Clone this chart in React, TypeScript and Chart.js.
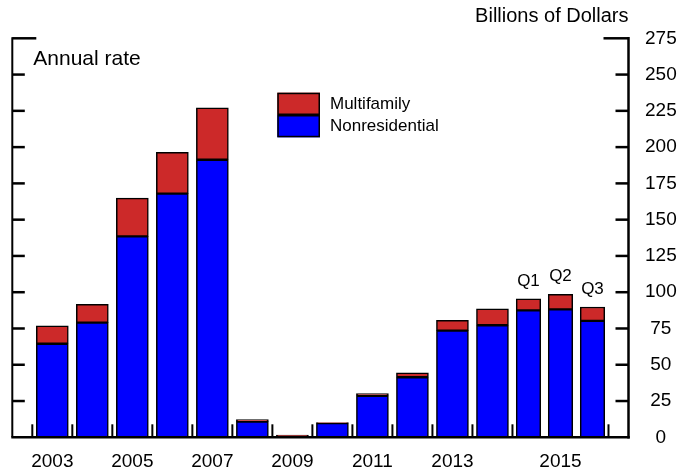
import React, { useEffect, useRef } from 'react';
import { Chart, registerables } from 'chart.js';

Chart.register(...registerables);

// ---- Data ----
const years = [2003, 2004, 2005, 2006, 2007, 2008, 2009, 2010, 2011, 2012, 2013, 2014];
const yearNonres = [64.5, 79.0, 138.5, 167.9, 191.3, 10.8, 1.0, 9.8, 28.5, 41.4, 73.5, 77.2];
const yearMulti = [12.4, 12.7, 26.4, 28.5, 35.7, 1.4, 0.6, 0.3, 1.7, 3.1, 7.1, 11.4];
const quarters = ['Q1', 'Q2', 'Q3'];
const quarterNonres = [87.5, 88.2, 80.2];
const quarterMulti = [8.0, 10.4, 9.6];
const xTickLabels = ['2003', '2005', '2007', '2009', '2011', '2013', '2015'];
const yMin = 0;
const yMax = 275;
const yStep = 25;
const seriesNames = ['Nonresidential', 'Multifamily'];

// ---- Styles ----
const FONT = "'Liberation Sans', Arial, Helvetica, sans-serif";
const BLUE = '#0000FF';
const RED = '#CC2929';

// Quarterly bars occupy narrower slots after the last annual year
const lastYear = years[years.length - 1];
const quarterSlotStart = lastYear + 0.5;
const quarterSlot = 0.8;
const quarterPos = quarters.map((_, i) => quarterSlotStart + quarterSlot / 2 + quarterSlot * i);
const slotBoundaries = [
  ...years.map((y) => y - 0.5),
  quarterSlotStart,
  quarterSlotStart + quarterSlot * quarters.length,
];
const tickValueOf = (label: string) => {
  const n = Number(label);
  return n <= lastYear ? n : quarterPos[Math.floor(quarters.length / 2)];
};
const xTickValues = xTickLabels.map(tickValueOf);

const decorPlugin = {
  id: 'decor',
  afterDatasetsDraw(chart: any) {
    const { ctx, chartArea: a, scales } = chart;
    const xs = scales.x;
    const ys = scales.y;
    const line = (x1: number, y1: number, x2: number, y2: number) => {
      ctx.beginPath();
      ctx.moveTo(x1, y1);
      ctx.lineTo(x2, y2);
      ctx.stroke();
    };
    ctx.save();
    ctx.strokeStyle = '#000';
    ctx.lineCap = 'butt';

    // axes
    ctx.lineWidth = 2;
    line(a.left, a.top - 1, a.left, a.bottom);
    ctx.lineWidth = 2.5;
    line(a.right, a.top - 1.25, a.right, a.bottom + 1.25);
    line(a.left - 1, a.bottom, a.right + 1.25, a.bottom);

    // inward y ticks on both sides
    for (let v = yMin + yStep; v <= yMax; v += yStep) {
      const py = ys.getPixelForValue(v);
      const top = v === yMax;
      ctx.lineWidth = 2.5;
      line(a.left, py, a.left + (top ? 24 : 12.5), py);
      line(a.right - (top ? 25 : 13), py, a.right, py);
    }

    // bottom slot ticks (upward)
    ctx.lineWidth = 2;
    slotBoundaries.forEach((b) => {
      const px = xs.getPixelForValue(b);
      line(px, a.bottom, px, a.bottom - 13);
    });

    ctx.fillStyle = '#000';

    // quarter labels above quarterly bars
    const qMeta = chart.getDatasetMeta(3);
    ctx.font = `17px ${FONT}`;
    ctx.textAlign = 'center';
    ctx.textBaseline = 'middle';
    qMeta.data.forEach((el: any, i: number) => {
      ctx.fillText(quarters[i], el.x, el.y - 17.5);
    });

    // legend (Multifamily on top)
    const legendItems = [
      { label: seriesNames[1], color: RED },
      { label: seriesNames[0], color: BLUE },
    ];
    const lx = a.left + 265;
    let ly = 92.7;
    const bw = 42.7;
    const bh = 22.3;
    legendItems.forEach((it) => {
      ctx.fillStyle = it.color;
      ctx.fillRect(lx, ly, bw, bh);
      ctx.lineWidth = 1.5;
      ctx.strokeStyle = '#000';
      ctx.strokeRect(lx + 0.75, ly + 0.75, bw - 1.5, bh - 1.5);
      ctx.fillStyle = '#000';
      ctx.font = `17px ${FONT}`;
      ctx.textAlign = 'left';
      ctx.textBaseline = 'middle';
      ctx.fillText(it.label, lx + bw + 10, ly + bh / 2 + 0.5);
      ly += bh;
    });

    // annotations
    ctx.font = `21px ${FONT}`;
    ctx.textAlign = 'left';
    ctx.textBaseline = 'alphabetic';
    ctx.fillText('Annual rate', a.left + 21, 65);

    ctx.font = `20px ${FONT}`;
    ctx.textAlign = 'right';
    ctx.fillText('Billions of Dollars', a.right, 21.7);

    ctx.restore();
  },
};

export default function App() {
  const canvasRef = useRef<HTMLCanvasElement | null>(null);

  useEffect(() => {
    const canvas = canvasRef.current;
    if (!canvas) return;
    const barBase = {
      type: 'bar' as const,
      borderColor: '#000',
      borderWidth: 1.5,
      borderSkipped: false,
      grouped: false,
      stack: 's',
    };
    const chart = new Chart(canvas, {
      type: 'bar',
      data: {
        datasets: [
          {
            ...barBase,
            label: seriesNames[0],
            data: years.map((y, i) => ({ x: y, y: yearNonres[i] })),
            backgroundColor: BLUE,
            barThickness: 32,
          },
          {
            ...barBase,
            label: seriesNames[1],
            data: years.map((y, i) => ({ x: y, y: yearMulti[i] })),
            backgroundColor: RED,
            barThickness: 32,
          },
          {
            ...barBase,
            label: seriesNames[0] + ' (quarterly)',
            data: quarterPos.map((p, i) => ({ x: p, y: quarterNonres[i] })),
            backgroundColor: BLUE,
            barThickness: 24.5,
          },
          {
            ...barBase,
            label: seriesNames[1] + ' (quarterly)',
            data: quarterPos.map((p, i) => ({ x: p, y: quarterMulti[i] })),
            backgroundColor: RED,
            barThickness: 24.5,
          },
        ],
      },
      options: {
        responsive: false,
        animation: false,
        events: [],
        layout: { padding: { left: 12.3, top: 38.3, right: 0, bottom: 0 } },
        plugins: {
          legend: { display: false },
          tooltip: { enabled: false },
          title: { display: false },
        },
        scales: {
          x: {
            type: 'linear',
            position: 'bottom',
            offset: false,
            bounds: 'ticks',
            min: years[0] - 1,
            max: quarterSlotStart + quarterSlot * quarters.length + 0.5,
            grid: { display: false, drawTicks: false, offset: false },
            border: { display: false },
            afterBuildTicks: (scale: any) => {
              scale.ticks = xTickValues.map((v) => ({ value: v }));
            },
            afterFit: (scale: any) => {
              scale.height = 37.7;
            },
            ticks: {
              autoSkip: false,
              maxRotation: 0,
              padding: 13,
              color: '#000',
              font: { family: FONT, size: 19 },
              callback: (value: any) => {
                const idx = xTickValues.findIndex((v) => Math.abs(v - Number(value)) < 1e-6);
                return idx >= 0 ? xTickLabels[idx] : '';
              },
            },
          },
          y: {
            type: 'linear',
            position: 'right',
            stacked: true,
            min: yMin,
            max: yMax,
            grid: { display: false, drawTicks: false },
            border: { display: false },
            afterFit: (scale: any) => {
              scale.width = 66.5;
            },
            ticks: {
              stepSize: yStep,
              crossAlign: 'center',
              padding: 16.5,
              color: '#000',
              font: { family: FONT, size: 19 },
            },
          },
        },
      },
      plugins: [decorPlugin],
    } as any);
    return () => chart.destroy();
  }, []);

  return (
    <div style={{ position: 'fixed', left: 0, top: 0, width: 695, height: 475, background: '#fff' }}>
      <canvas ref={canvasRef} width={695} height={475} style={{ display: 'block' }} />
    </div>
  );
}
